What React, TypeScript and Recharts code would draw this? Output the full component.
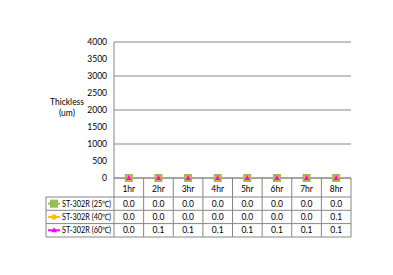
import { LineChart, Line, XAxis, YAxis, CartesianGrid } from "recharts";

const categories = ["1hr", "2hr", "3hr", "4hr", "5hr", "6hr", "7hr", "8hr"];
const st25 = [0, 0, 0, 0, 0, 0, 0, 0];
const st40 = [0, 0, 0, 0, 0, 0, 0, 0.1];
const st60 = [0, 0.1, 0.1, 0.1, 0.1, 0.1, 0.1, 0.1];
const yTicks = [0, 500, 1000, 1500, 2000, 2500, 3000, 3500, 4000];

const seriesList = [
  { key: "s25", name: "ST-302R (25\u2103)", values: st25, color: "#9BBB59", shape: "square" },
  { key: "s40", name: "ST-302R (40\u2103)", values: st40, color: "#FFC000", shape: "circle" },
  { key: "s60", name: "ST-302R (60\u2103)", values: st60, color: "#FF00FF", shape: "triangle" },
];

const data = categories.map((c, i) => ({
  name: c,
  s25: st25[i],
  s40: st40[i],
  s60: st60[i],
}));

const W = 393;
const H = 275;
const margin = { top: 42, right: 42, bottom: 0, left: 74 };
const yAxisWidth = 40;
const plotWidth = W - margin.left - yAxisWidth - margin.right;
const band = plotWidth / categories.length;
const gridColor = "#868686";
const font = "Lato, 'Open Sans', sans-serif";
const rowLines = [19, 32.3, 45.6, 59];
const tableLeft = 46;

function Marker({ cx, cy, shape, color }: any) {
  if (cx == null || cy == null) return null;
  if (shape === "square") {
    return <rect x={cx - 3.5} y={cy - 3.5} width={7} height={7} fill={color} stroke={color} />;
  }
  if (shape === "circle") {
    return <circle cx={cx} cy={cy} r={2.6} fill={color} />;
  }
  return <path d={`M${cx},${cy - 3} L${cx + 2.8},${cy + 2} L${cx - 2.8},${cy + 2} Z`} fill={color} />;
}

function TableTick({ x, y, payload }: any) {
  const i = payload.index;
  const left = x - band / 2;
  const right = x + band / 2;
  return (
    <g>
      <text x={x} y={y + 10.5} textAnchor="middle" dominantBaseline="central" fontSize={8.5} fontFamily={font} fill="#000">
        {payload.value}
      </text>
      <line x1={left} x2={left} y1={y} y2={y + rowLines[3]} stroke={gridColor} />
      {i === categories.length - 1 && (
        <line x1={right} x2={right} y1={y} y2={y + rowLines[3]} stroke={gridColor} />
      )}
      {rowLines.map((r) => (
        <line key={r} x1={left} x2={right} y1={y + r} y2={y + r} stroke={gridColor} />
      ))}
      {seriesList.map((s, k) => (
        <text
          key={s.key}
          x={x}
          y={(y + rowLines[k] + y + rowLines[k + 1]) / 2}
          textAnchor="middle"
          dominantBaseline="central"
          fontSize={8.5}
          fontFamily={font}
          fill="#000"
        >
          {s.values[i].toFixed(1)}
        </text>
      ))}
      {i === 0 && (
        <g>
          <line x1={tableLeft} x2={tableLeft} y1={y + rowLines[0]} y2={y + rowLines[3]} stroke={gridColor} />
          {rowLines.map((r) => (
            <line key={r} x1={tableLeft} x2={left} y1={y + r} y2={y + r} stroke={gridColor} />
          ))}
          {seriesList.map((s, k) => {
            const cy = (y + rowLines[k] + y + rowLines[k + 1]) / 2;
            return (
              <g key={s.key}>
                <line x1={tableLeft + 2} x2={tableLeft + 14} y1={cy} y2={cy} stroke={s.color} strokeWidth={2} />
                <Marker cx={tableLeft + 8} cy={cy} shape={s.shape} color={s.color} />
                <text
                  x={tableLeft + 16}
                  y={cy}
                  dominantBaseline="central"
                  fontSize={8.5}
                  fontFamily={font}
                  fill="#000"
                  textLength={49}
                  lengthAdjust="spacingAndGlyphs"
                >
                  {s.name}
                </text>
              </g>
            );
          })}
        </g>
      )}
    </g>
  );
}

export default function App() {
  return (
    <div style={{ position: "absolute", left: 0, top: 0, width: W, height: H, background: "#fff" }}>
      <LineChart width={W} height={H} data={data} margin={margin}>
        <CartesianGrid vertical={false} stroke={gridColor} />
        <XAxis
          dataKey="name"
          interval={0}
          padding={{ left: band / 2, right: band / 2 }}
          tickLine={false}
          tickSize={0}
          tickMargin={0}
          height={H - 178}
          axisLine={{ stroke: gridColor }}
          tick={<TableTick />}
        />
        <YAxis
          width={yAxisWidth}
          domain={[0, 4000]}
          ticks={yTicks}
          tickLine={false}
          tickSize={0}
          tickMargin={7}
          axisLine={{ stroke: gridColor }}
          tick={{ fontSize: 8.5, fontFamily: font, fill: "#000" }}
          label={{
            content: () => (
              <text x={67} textAnchor="middle" fontSize={8.5} fontFamily={font} fill="#000">
                <tspan x={67} y={105}>Thickless</tspan>
                <tspan x={67} y={116}>(um)</tspan>
              </text>
            ),
          }}
        />
        <YAxis
          yAxisId="r"
          orientation="right"
          width={0}
          tick={false}
          tickLine={false}
          axisLine={{ stroke: gridColor }}
        />
        {seriesList.map((s) => (
          <Line
            key={s.key}
            dataKey={s.key}
            name={s.name}
            stroke="none"
            isAnimationActive={false}
            dot={(p: any) => <Marker key={`${s.key}-${p.index}`} cx={p.cx} cy={p.cy} shape={s.shape} color={s.color} />}
            activeDot={false}
          />
        ))}
      </LineChart>
    </div>
  );
}
